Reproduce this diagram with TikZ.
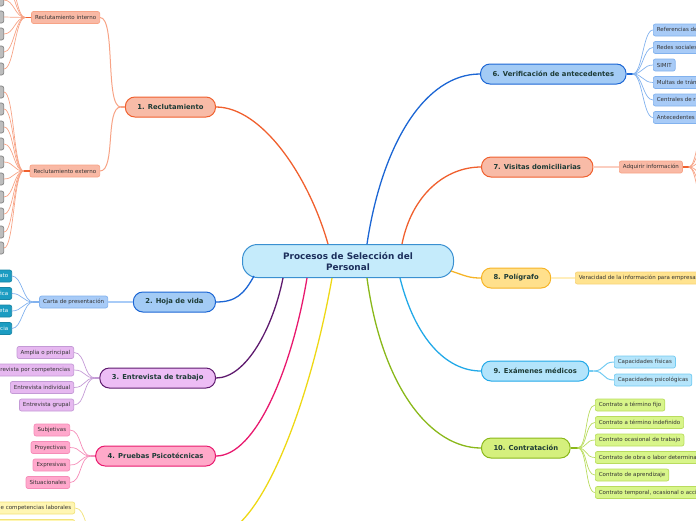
\documentclass[tikz,border=0pt]{standalone}
\usepackage{fontspec}
\setmainfont{DejaVu Sans}
\usepackage{xcolor}
\usetikzlibrary{positioning,calc}

% colours of the branches
\definecolor{rootfill}{HTML}{C5EBFB}
\definecolor{rootline}{HTML}{3A90D1}
\definecolor{roottext}{HTML}{1B2E5B}
\definecolor{maintext}{HTML}{1D3B36}
\definecolor{subtext}{HTML}{333333}
\definecolor{orfill}{HTML}{F8BBA7}
\definecolor{orline}{HTML}{F0602E}
\definecolor{orsub}{HTML}{F9B9A5}
\definecolor{orsubline}{HTML}{F7A386}
\definecolor{bufill}{HTML}{A3CBF5}
\definecolor{buline}{HTML}{1C66D4}
\definecolor{busub}{HTML}{A8CBF7}
\definecolor{busubline}{HTML}{82B2EE}
\definecolor{tealfill}{HTML}{1B9CC2}
\definecolor{pufill}{HTML}{EDBDF5}
\definecolor{puline}{HTML}{5E1A6E}
\definecolor{pusub}{HTML}{E6B8F0}
\definecolor{pusubline}{HTML}{C49AD6}
\definecolor{pifill}{HTML}{FFA9C9}
\definecolor{piline}{HTML}{E8196E}
\definecolor{pisub}{HTML}{FFA8CC}
\definecolor{pisubline}{HTML}{F58CB8}
\definecolor{yeline}{HTML}{EED815}
\definecolor{yesub}{HTML}{FFF6B3}
\definecolor{yesubline}{HTML}{F1E27A}
\definecolor{gofill}{HTML}{FFE08C}
\definecolor{goline}{HTML}{F6B427}
\definecolor{gosub}{HTML}{FFE38F}
\definecolor{gosubline}{HTML}{F7D37A}
\definecolor{skfill}{HTML}{B3E4FB}
\definecolor{skline}{HTML}{22A9E8}
\definecolor{sksub}{HTML}{B5E5FB}
\definecolor{sksubline}{HTML}{73CBF2}
\definecolor{grfill}{HTML}{D5F07D}
\definecolor{grline}{HTML}{8AB81A}
\definecolor{grsub}{HTML}{D8F58A}
\definecolor{grsubline}{HTML}{B9DC5E}
\definecolor{leafgrey}{HTML}{BDBDBD}

\begin{document}
\begin{tikzpicture}[x=1pt, y=-1pt,
    root/.style={draw=rootline, fill=rootfill, line width=1pt, rounded corners=15pt,
        minimum width=211pt, minimum height=33pt, align=center, text=roottext,
        font=\bfseries\fontsize{8.9}{11}\selectfont},
    topic/.style={draw, line width=1pt, rounded corners=9.5pt, minimum height=20pt,
        inner xsep=12pt, inner ysep=0pt, text=maintext,
        font=\bfseries\fontsize{6.8}{8}\selectfont},
    subtopic/.style={draw, line width=0.7pt, rounded corners=2pt, minimum height=12pt,
        inner xsep=3.5pt, inner ysep=0pt, text=subtext, font=\fontsize{5.5}{6}\selectfont},
    greyleaf/.style={subtopic, draw=gray, fill=leafgrey, minimum width=30pt, anchor=east},
    tealleaf/.style={subtopic, draw=tealfill!85!black, fill=tealfill, text=white, anchor=east},
    branch/.style={line width=1.3pt},
    twig/.style={line width=0.7pt},
    stub/.style={line width=1.6pt}]

\useasboundingbox (0,0) rectangle (696,520);

% centre
\node[root] (root) at (348,261) {Procesos de Selección del\\Personal};

% main topics, left side
\node[topic, draw=orline, fill=orfill, anchor=east] (n1) at (216,107) {1. Reclutamiento};
\node[topic, draw=buline, fill=bufill, anchor=east] (n2) at (216,302) {2. Hoja de vida};
\node[topic, draw=puline, fill=pufill, anchor=east] (n3) at (216,378) {3. Entrevista de trabajo};
\node[topic, draw=piline, fill=pifill, anchor=east] (n4) at (216,456) {4. Pruebas Psicotécnicas};
\coordinate (n5) at (216,535);
\coordinate (n5w) at (96,535);

% main topics, right side
\node[topic, draw=buline, fill=bufill, anchor=west] (n6) at (480,74) {6. Verificación de antecedentes};
\node[topic, draw=orline, fill=orfill, anchor=west] (n7) at (481,167) {7. Visitas domiciliarias};
\node[topic, draw=goline, fill=gofill, anchor=west] (n8) at (481,278) {8. Polígrafo};
\node[topic, draw=skline, fill=skfill, anchor=west] (n9) at (481,371) {9. Exámenes médicos};
\node[topic, draw=grline, fill=grfill, anchor=west] (n10) at (481,448) {10. Contratación};

% branches from the centre
\draw[branch, orline] ($(root.north)+(-20,0)$) .. controls +(-20,-70) and +(45,0) .. (n1.east);
\draw[branch, buline] ($(root.south west)+(12,-2)$) .. controls +(-10,18) and +(20,0) .. (n2.east);
\draw[branch, puline] ($(root.south)+(-65,0)$) .. controls +(-10,50) and +(30,0) .. (n3.east);
\draw[branch, piline] ($(root.south)+(-41,0)$) .. controls +(-15,90) and +(40,0) .. (n4.east);
\draw[branch, yeline] ($(root.south)+(-16,0)$) .. controls +(-25,140) and +(40,0) .. (n5);
\draw[branch, buline] ($(root.north)+(19,0)$) .. controls +(15,-100) and +(-55,0) .. (n6.west);
\draw[branch, orline] ($(root.north)+(54,0)$) .. controls +(10,-50) and +(-35,0) .. (n7.west);
\draw[branch, goline] ($(root.east)+(-3,10)$) .. controls +(15,5) and +(-12,0) .. (n8.west);
\draw[branch, skline] ($(root.south)+(52,0)$) .. controls +(15,60) and +(-35,0) .. (n9.west);
\draw[branch, grline] ($(root.south)+(19,0)$) .. controls +(15,110) and +(-50,0) .. (n10.west);

% 1. Reclutamiento
\node[subtopic, draw=orsubline, fill=orsub, anchor=east] (rint) at (100,17.5) {Reclutamiento interno};
\node[subtopic, draw=orsubline, fill=orsub, anchor=east] (rext) at (100,171) {Reclutamiento externo};
\draw[stub, orsubline] (n1.west) -- ++(-4,0) coordinate (n1j);
\foreach \s in {rint, rext}
    \draw[stub, orsubline, line width=1pt] (n1j) .. controls +(-16,0) and +(16,0) .. (\s.east);
\draw[stub, orline] (rint.west) -- ++(-6,0) coordinate (rintj);
\foreach \y [count=\i] in {-34,-17,0,17,34,52,69} {
    \node[greyleaf] (ri\i) at (4,\y) {};
    \draw[twig, orsubline] (rintj) .. controls +(-10,0) and +(10,0) .. (ri\i.east);
}
\draw[stub, orline] (rext.west) -- ++(-6,0) coordinate (rextj);
\foreach \y [count=\i] in {92,109,127,144,162,179,197,214,232,248} {
    \node[greyleaf] (re\i) at (4,\y) {};
    \draw[twig, orsubline] (rextj) .. controls +(-10,0) and +(10,0) .. (re\i.east);
}

% 2. Hoja de vida
\node[subtopic, draw=busubline, fill=busub, anchor=east] (carta) at (108,302) {Carta de presentación};
\draw[stub, busub] (n2.west) -- (carta.east);
\draw[stub, busubline] (carta.west) -- ++(-6,0) coordinate (cartaj);
\node[tealleaf] (c1) at (12,276) {Formato};
\node[tealleaf] (c2) at (12,293.5) {Específica};
\node[tealleaf] (c3) at (12,311) {Completa};
\node[tealleaf] (c4) at (12,328.5) {Experiencia};
\foreach \c in {c1,c2,c3,c4}
    \draw[twig, busubline] (cartaj) .. controls +(-10,0) and +(10,0) .. (\c.east);

% 3. Entrevista de trabajo
\node[subtopic, draw=pusubline, fill=pusub, anchor=east] (e1) at (74,352.5) {Amplia o principal};
\node[subtopic, draw=pusubline, fill=pusub, anchor=east] (e2) at (74,370) {Entrevista por competencias};
\node[subtopic, draw=pusubline, fill=pusub, anchor=east] (e3) at (74,387.5) {Entrevista individual};
\node[subtopic, draw=pusubline, fill=pusub, anchor=east] (e4) at (74,405) {Entrevista grupal};
\draw[stub, pusubline] (n3.west) -- ++(-4,0) coordinate (n3j);
\foreach \e in {e1,e2,e3,e4}
    \draw[twig, pusubline] (n3j) .. controls +(-12,0) and +(12,0) .. (\e.east);

% 4. Pruebas Psicotécnicas
\node[subtopic, draw=pisubline, fill=pisub, anchor=east] (p1) at (70,430) {Subjetivas};
\node[subtopic, draw=pisubline, fill=pisub, anchor=east] (p2) at (70,447.5) {Proyectivas};
\node[subtopic, draw=pisubline, fill=pisub, anchor=east] (p3) at (70,465) {Expresivas};
\node[subtopic, draw=pisubline, fill=pisub, anchor=east] (p4) at (70,482.5) {Situacionales};
\draw[stub, pisubline] (n4.west) -- ++(-4,0) coordinate (n4j);
\foreach \p in {p1,p2,p3,p4}
    \draw[twig, pisubline] (n4j) .. controls +(-12,0) and +(12,0) .. (\p.east);

% 5. (below the page)
\node[subtopic, draw=yesubline, fill=yesub, anchor=east] (y1) at (75,508) {Evaluación de competencias laborales};
\node[subtopic, draw=yesubline, fill=yesub, anchor=east] (y2) at (75,525.5) {Pruebas de conocimientos};
\foreach \q in {y1,y2}
    \draw[twig, yesubline] (n5w) .. controls +(-12,0) and +(12,0) .. (\q.east);

% 6. Verificación de antecedentes
\node[subtopic, draw=busubline, fill=busub, anchor=west] (v1) at (653,30) {Referencias de empleos anteriores};
\node[subtopic, draw=busubline, fill=busub, anchor=west] (v2) at (653,47.5) {Redes sociales};
\node[subtopic, draw=busubline, fill=busub, anchor=west] (v3) at (653,65) {SIMIT};
\node[subtopic, draw=busubline, fill=busub, anchor=west] (v4) at (653,82.5) {Multas de tránsito};
\node[subtopic, draw=busubline, fill=busub, anchor=west] (v5) at (653,100) {Centrales de riesgo};
\node[subtopic, draw=busubline, fill=busub, anchor=west] (v6) at (653,117.5) {Antecedentes judiciales};
\draw[stub, buline] (n6.east) -- ++(6,0) coordinate (n6j);
\foreach \v in {v1,v2,v3,v4,v5,v6}
    \draw[twig, busubline] (n6j) .. controls +(10,0) and +(-10,0) .. (\v.west);

% 7. Visitas domiciliarias
\node[subtopic, draw=orsubline, fill=orsub, anchor=west] (adq) at (619,167) {Adquirir información};
\draw[stub, orsub!70!white] (n7.east) -- (adq.west);
\draw[stub, orline] (adq.east) -- ++(6,0) coordinate (adqj);
\foreach \y [count=\i] in {125,142,159,176,193,210} {
    \node[greyleaf, anchor=west] (vd\i) at (706,\y) {};
    \draw[twig, orsubline] (adqj) .. controls +(8,0) and +(-8,0) .. (vd\i.west);
}

% 8. Polígrafo
\node[subtopic, draw=gosubline, fill=gosub, anchor=west] (ver) at (575,278) {Veracidad de la información para empresas};
\draw[stub, gosub!60!white] (n8.east) -- (ver.west);

% 9. Exámenes médicos
\node[subtopic, draw=sksubline, fill=sksub, anchor=west] (m1) at (614,362) {Capacidades físicas};
\node[subtopic, draw=sksubline, fill=sksub, anchor=west] (m2) at (614,380) {Capacidades psicológicas};
\draw[stub, sksubline] (n9.east) -- ++(4,0) coordinate (n9j);
\foreach \m in {m1,m2}
    \draw[stub, sksubline, line width=1pt] (n9j) .. controls +(12,0) and +(-12,0) .. (\m.west);

% 10. Contratación
\node[subtopic, draw=grsubline, fill=grsub, anchor=west] (k1) at (595,405) {Contrato a término fijo};
\node[subtopic, draw=grsubline, fill=grsub, anchor=west] (k2) at (595,422.5) {Contrato a término indefinido};
\node[subtopic, draw=grsubline, fill=grsub, anchor=west] (k3) at (595,440) {Contrato ocasional de trabajo};
\node[subtopic, draw=grsubline, fill=grsub, anchor=west] (k4) at (595,457.5) {Contrato de obra o labor determinada};
\node[subtopic, draw=grsubline, fill=grsub, anchor=west] (k5) at (595,475) {Contrato de aprendizaje};
\node[subtopic, draw=grsubline, fill=grsub, anchor=west] (k6) at (595,492.5) {Contrato temporal, ocasional o accidental};
\draw[stub, grline] (n10.east) -- ++(7,0) coordinate (n10j);
\foreach \k in {k1,k2,k3,k4,k5,k6}
    \draw[twig, grsubline] (n10j) .. controls +(10,0) and +(-10,0) .. (\k.west);

\end{tikzpicture}
\end{document}
